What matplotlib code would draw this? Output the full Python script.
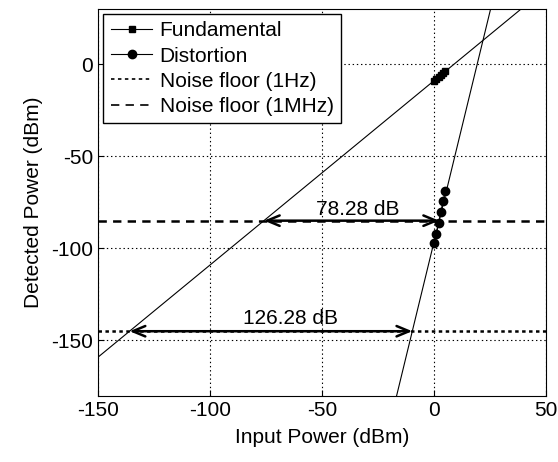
import numpy as np
import matplotlib
matplotlib.use('Agg')
import matplotlib.pyplot as plt

plt.rcParams['font.family'] = ['Liberation Sans', 'DejaVu Sans']
plt.rcParams['font.size'] = 15
plt.rcParams['lines.scale_dashes'] = False

# measured points
p_in = [0, 1, 2, 3, 4, 5]
fund = [-9, -8, -7, -6, -5, -4]
dist = [-97, -92.5, -86.5, -80.5, -74.5, -69]

# fitted lines (slope, intercept)
fund_fit = (1.0, -9.0)
dist_fit = (5.0, -96.4)

noise_1hz = -145
noise_1mhz = -85
dr_labels = ['126.28 dB', '78.28 dB']
dr_text_pos = [(-64, -138), (-34, -79)]

xlim = (-150, 50)
ylim = (-180, 30)

fig = plt.figure(figsize=(5.58, 4.62), dpi=100)
ax = fig.add_axes([0.176, 0.1435, 0.8025, 0.8375])

xx = np.array(xlim)
ax.plot(xx, fund_fit[0] * xx + fund_fit[1], 'k-', lw=0.8)
ax.plot(xx, dist_fit[0] * xx + dist_fit[1], 'k-', lw=0.8)

ax.plot(p_in, fund, 'k-', marker='s', ms=5, lw=0.8, label='Fundamental')
ax.plot(p_in, dist, 'k-', marker='o', ms=6, lw=0.8, label='Distortion')

l1, = ax.plot(xx, [noise_1hz] * 2, color='k', lw=1.8, label='Noise floor (1Hz)')
l1.set_dashes((2.5, 2.5))
l2, = ax.plot(xx, [noise_1mhz] * 2, color='k', lw=1.8, label='Noise floor (1MHz)')
l2.set_dashes((6, 4.5))

# dynamic range arrows between the two fit lines at each noise floor
for nf, lab, (tx, ty) in zip([noise_1hz, noise_1mhz], dr_labels, dr_text_pos):
    xf = (nf - fund_fit[1]) / fund_fit[0]
    xd = (nf - dist_fit[1]) / dist_fit[0]
    ax.annotate('', xy=(xd, nf), xytext=(xf, nf),
                arrowprops=dict(arrowstyle='<->,head_length=0.6,head_width=0.25',
                                lw=1.8, color='k', shrinkA=0, shrinkB=0))
    ax.text(tx, ty, lab, ha='center', va='center')

ax.set_xlim(*xlim)
ax.set_ylim(*ylim)
ax.set_xticks([-150, -100, -50, 0, 50])
ax.set_yticks([0, -50, -100, -150])
ax.set_xticklabels(['-150', '-100', '-50', '0', '50'])
ax.set_yticklabels(['0', '-50', '-100', '-150'])
ax.grid(True, color='k', linestyle=(0, (1, 2)), lw=0.8)
ax.tick_params(direction='in', length=4, width=0.8)
for s in ax.spines.values():
    s.set_linewidth(0.8)

ax.set_xlabel('Input Power (dBm)', labelpad=6)
ax.set_ylabel('Detected Power (dBm)', labelpad=6)

leg = ax.legend(loc='upper left', fancybox=False, framealpha=1, edgecolor='k',
                borderaxespad=0.25, handlelength=2.0, handletextpad=0.35,
                labelspacing=0.3, borderpad=0.35)
leg.get_frame().set_linewidth(1.0)
for h in leg.get_lines()[2:]:
    h.set_linewidth(1.2)

fig.savefig('out.png', dpi=100)
